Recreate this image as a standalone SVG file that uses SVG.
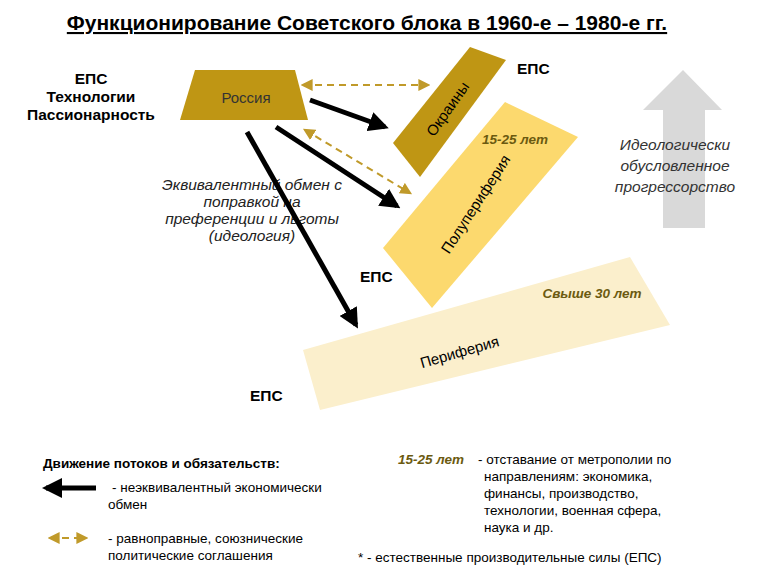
<svg xmlns="http://www.w3.org/2000/svg" width="770" height="576" viewBox="0 0 770 576">
<style>
text{font-family:"Liberation Sans",Arial,sans-serif;fill:#000}
.b{font-weight:bold;font-size:15.5px}
.n{font-size:13.5px}
.it{font-style:italic;font-size:15.5px;fill:#222}
.yr{font-style:italic;font-weight:bold;font-size:13.5px;fill:#6b5a10}
.blk{stroke:#000;stroke-width:5;fill:none}
.dsh{stroke:#c09a2a;stroke-width:2;stroke-dasharray:7,5;fill:none}
</style>
<defs>
<marker id="ab" viewBox="0 0 10 10" refX="8" refY="5" markerWidth="4" markerHeight="4" orient="auto-start-reverse" markerUnits="strokeWidth"><path d="M0,0L10,5L0,10z" fill="#000"/></marker>
<marker id="ag" viewBox="0 0 10 10" refX="8" refY="5" markerWidth="6" markerHeight="6" orient="auto-start-reverse" markerUnits="strokeWidth"><path d="M0,0L10,5L0,10z" fill="#c09a2a"/></marker>
</defs>
<rect width="770" height="576" fill="#fff"/>
<text x="367" y="30" text-anchor="middle" style="font-size:21px;font-weight:bold;text-decoration:underline">Функционирование Советского блока в 1960-е – 1980-е гг.</text>
<g id="arrow-big"><polygon points="663,228 705,228 705,110 722,110 683,70 643,110 663,110" fill="#d9d9d9"/></g>
<g id="left-labels">
<text class="b" x="91" y="84" text-anchor="middle">ЕПС</text>
<text class="b" x="91" y="102" text-anchor="middle">Технологии</text>
<text class="b" x="91" y="120" text-anchor="middle">Пассионарность</text>
</g>
<g id="periphery"><polygon points="303,350 630,257 670,325 320,410" fill="#fbefcc"/>
<text x="461" y="357" font-size="15" transform="rotate(-16 461 357)" text-anchor="middle">Периферия</text>
<text class="yr" x="592" y="298" text-anchor="middle">Свыше 30 лет</text></g>
<g id="semiperiphery"><polygon points="505,102 578,137 432,308 383,248" fill="#fcd96e"/>
<text x="480" y="207" font-size="15" transform="rotate(-57 480 207)" text-anchor="middle">Полупериферия</text>
<text class="yr" x="515" y="144" text-anchor="middle">15-25 лет</text></g>
<g id="okrainy"><polygon points="470,47 506,60 420,177 393,143" fill="#bf9614"/>
<text x="452" y="112" font-size="15" transform="rotate(-55 452 112)" text-anchor="middle">Окраины</text></g>
<g id="russia"><polygon points="195,70 295,70 308,120 180,120" fill="#bf9614"/>
<text x="246" y="103" text-anchor="middle" style="font-size:15px;fill:#333">Россия</text></g>
<text class="it" x="252" y="190" text-anchor="middle">Эквивалентный обмен с</text>
<text class="it" x="252" y="207" text-anchor="middle">поправкой на</text>
<text class="it" x="252" y="224" text-anchor="middle">преференции и льготы</text>
<text class="it" x="252" y="241" text-anchor="middle">(идеология)</text>
<g id="connectors">
<line class="blk" x1="310" y1="100" x2="385" y2="127" marker-end="url(#ab)"/>
<line class="blk" x1="276" y1="127" x2="397" y2="206" marker-end="url(#ab)"/>
<line class="blk" x1="247" y1="132" x2="356" y2="325" marker-end="url(#ab)"/>
<line class="dsh" x1="303" y1="85" x2="428" y2="85" marker-start="url(#ag)" marker-end="url(#ag)"/>
<line class="dsh" x1="305" y1="130" x2="410" y2="193" marker-start="url(#ag)" marker-end="url(#ag)"/>
</g>
<text class="b" x="517" y="74">ЕПС</text>
<text class="b" x="360" y="282">ЕПС</text>
<text class="b" x="250" y="401">ЕПС</text>
<text x="675" y="150" text-anchor="middle" style="font-style:italic;font-size:15.5px;fill:#333">Идеологически</text>
<text x="675" y="171" text-anchor="middle" style="font-style:italic;font-size:15.5px;fill:#333">обусловленное</text>
<text x="675" y="192" text-anchor="middle" style="font-style:italic;font-size:15.5px;fill:#333">прогрессорство</text>
<g id="legend">
<text x="43" y="468" style="font-weight:bold;font-size:13.5px">Движение потоков и обязательств:</text>
<line x1="96" y1="488" x2="46" y2="488" stroke="#000" stroke-width="5" marker-end="url(#ab)"/>
<text class="n" x="112" y="492"> - неэквивалентный экономически</text>
<text class="n" x="108" y="509">обмен</text>
<line x1="50" y1="538" x2="86" y2="538" class="dsh" marker-start="url(#ag)" marker-end="url(#ag)"/>
<text class="n" x="108" y="543">- равноправные, союзнические</text>
<text class="n" x="108" y="560">политические соглашения</text>
<text class="yr" x="398" y="464">15-25 лет</text>
<text class="n" x="478" y="464">- отставание от метрополии по</text>
<text class="n" x="484" y="481">направлениям: экономика,</text>
<text class="n" x="484" y="498">финансы, производство,</text>
<text class="n" x="484" y="515">технологии, военная сфера,</text>
<text class="n" x="484" y="532">наука и др.</text>
<text class="n" x="358" y="562">* - естественные производительные силы (ЕПС)</text>
</g>
</svg>
